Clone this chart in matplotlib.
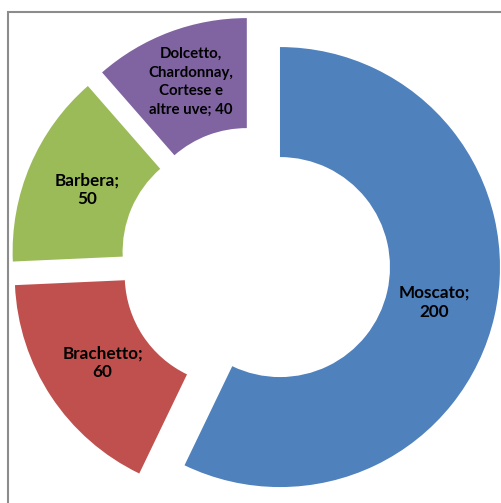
import matplotlib.pyplot as plt

# vitigni e quantita
names = ["Moscato", "Brachetto", "Barbera", "Dolcetto,\nChardonnay,\nCortese e\naltre uve"]
values = [200, 60, 50, 40]
seps = [";\n", ";\n", ";\n", "; "]
colors = ["#4F81BD", "#C0504D", "#9BBB59", "#8064A2"]

labels = [n + s + str(v) for n, s, v in zip(names, seps, values)]

W, H = 501, 503
fig = plt.figure(figsize=(W / 100, H / 100), dpi=100)
ax = fig.add_axes([0, 0, 1, 1])

R = 220
cx, cy = 255.6, H - 261.5
texts = ax.pie(values, labels=labels, colors=colors, startangle=90, counterclock=False,
               center=(cx, cy), radius=R, explode=[25] * len(values),
               labeldistance=0.72, wedgeprops=dict(width=110, linewidth=0),
               textprops=dict(fontsize=12.3, fontweight="bold", family="Lato",
                              color="black"))[1]
for t in texts:
    t.set_horizontalalignment("center")
    t.set_verticalalignment("center")
    t.set_multialignment("center")
    t.set_linespacing(1.2)
# l'etichetta lunga in carattere piu piccolo, un po' piu verso l'esterno
lx, ly = texts[-1].get_position()
texts[-1].set_position((lx, ly + 8))
texts[-1].set_fontsize(10.8)
texts[-1].set_linespacing(1.4)

ax.set_xlim(0, W)
ax.set_ylim(0, H)
ax.set_aspect("equal")
ax.axis("off")

# bordo del grafico (solo lati sinistro e superiore visibili)
ax.plot([8, 8, W + 5], [-5, H - 12, H - 12], color="#8C8C8C", lw=1.5,
        solid_joinstyle="miter", clip_on=False)

fig.savefig("out.png", dpi=100, facecolor="white")
